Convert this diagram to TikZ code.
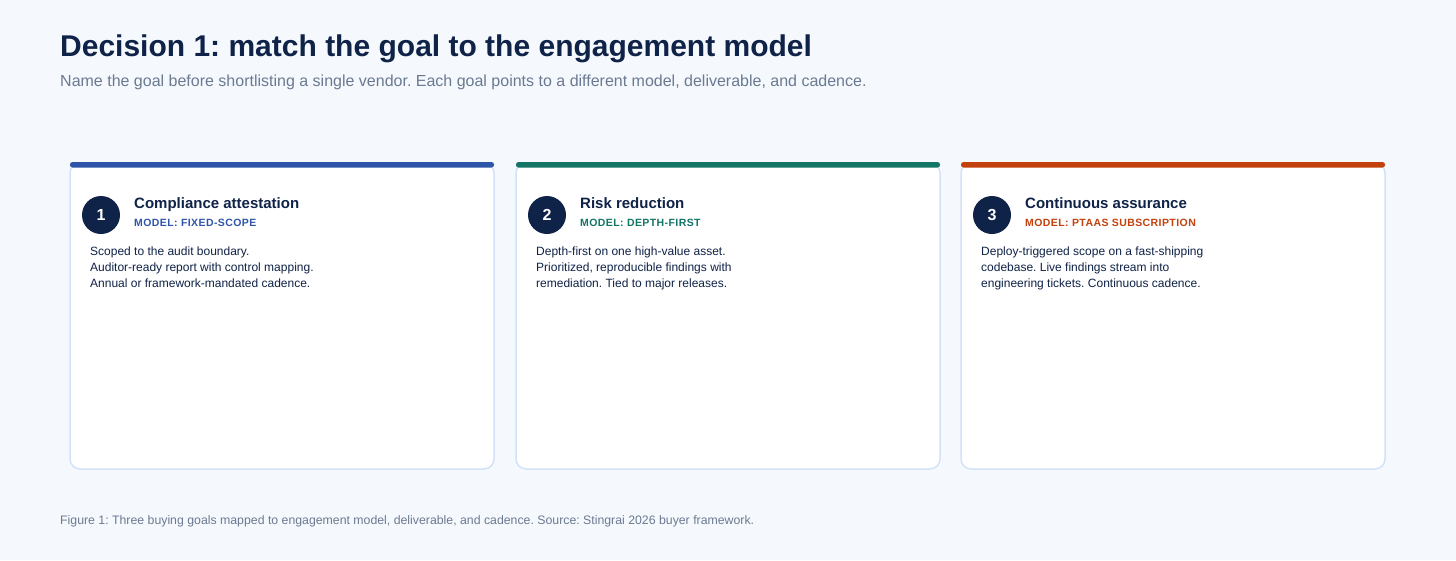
\documentclass[tikz,border=0pt]{standalone}
\usepackage{fontspec}
\setmainfont{Liberation Sans}
\frenchspacing
\definecolor{bg}{HTML}{F5F9FE}
\definecolor{navy}{HTML}{0F2247}
\definecolor{grey}{HTML}{6B7A90}
\definecolor{cbord}{HTML}{D3E2F7}
\definecolor{cA}{HTML}{2F55A8}
\definecolor{cB}{HTML}{137565}
\definecolor{cC}{HTML}{C2410C}
\begin{document}
\begin{tikzpicture}[x=1pt,y=-1pt,
  card/.style={draw=cbord,line width=1.5pt,fill=white,rounded corners=10pt},
  num/.style={circle,fill=navy,minimum size=38pt,inner sep=0pt,text=white,font=\fontsize{16}{18}\selectfont\bfseries},
  ttl/.style={anchor=base west,inner sep=0pt,text=navy,font=\fontsize{15}{17}\selectfont\bfseries},
  mdl/.style={anchor=base west,inner sep=0pt,font=\fontsize{10.5}{12}\selectfont\bfseries\addfontfeatures{LetterSpace=4}},
  body/.style={anchor=north west,inner sep=0pt,text=navy,align=left,font=\fontsize{12}{16}\selectfont}]
\fill[bg] (0,0) rectangle (1456,560);
\useasboundingbox (0,0) rectangle (1456,560);
\node[anchor=base west,inner sep=0pt,text=navy,font=\fontsize{30}{32}\selectfont\bfseries] (h) at (60,56) {Decision 1: match the goal to the engagement model};
\node[anchor=base west,inner sep=0pt,text=grey,font=\fontsize{16}{18}\selectfont] (s) at (60,86) {Name the goal before shortlisting a single vendor. Each goal points to a different model, deliverable, and cadence.};
\node[anchor=base west,inner sep=0pt,text=grey,font=\fontsize{12.3}{14}\selectfont] (cap) at (60,524) {Figure 1: Three buying goals mapped to engagement model, deliverable, and cadence. Source: Stingrai 2026 buyer framework.};
\foreach \x/\c/\n/\t/\m/\b in {
 70/cA/1/Compliance attestation/MODEL: FIXED-SCOPE/{Scoped to the audit boundary.\\Auditor-ready report with control mapping.\\Annual or framework-mandated cadence.},
 516/cB/2/Risk reduction/MODEL: DEPTH-FIRST/{Depth-first on one high-value asset.\\Prioritized, reproducible findings with\\remediation. Tied to major releases.},
 961/cC/3/Continuous assurance/MODEL: PTAAS SUBSCRIPTION/{Deploy-triggered scope on a fast-shipping\\codebase. Live findings stream into\\engineering tickets. Continuous cadence.}}{
 \draw[card] (\x,163) rectangle ++(424,306);
 \fill[\c,rounded corners=2.5pt] (\x,162) rectangle ++(424,5.5);
 \node[num] (n\n) at (\x+31,215) {\n};
 \node[ttl] (t\n) at (\x+64,208) {\t};
 \node[mdl,text=\c] (m\n) at (\x+64,226) {\m};
 \node[body] (b\n) at (\x+20,247) {\b};
}
\end{tikzpicture}
\end{document}
